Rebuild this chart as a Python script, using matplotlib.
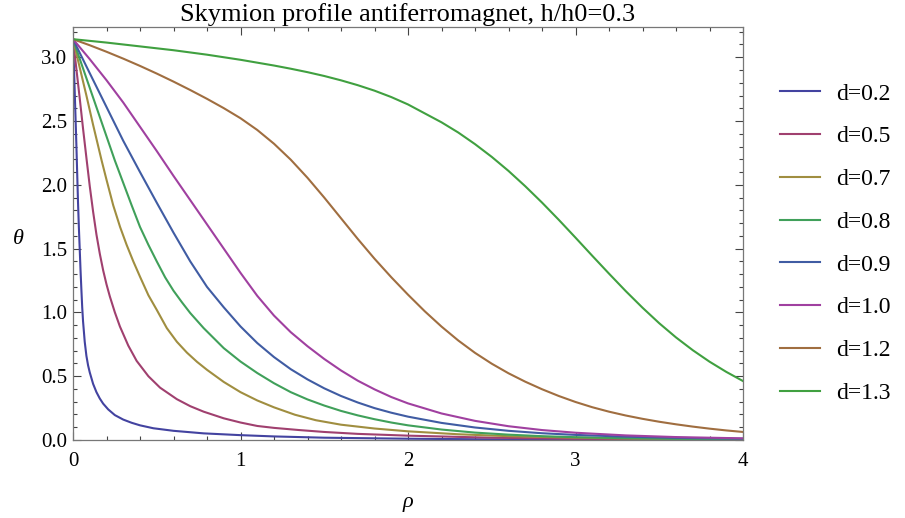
import matplotlib
matplotlib.use("Agg")
import matplotlib.pyplot as plt
from matplotlib.ticker import MultipleLocator, FormatStrFormatter

plt.rcParams['font.family'] = ['Liberation Serif', 'DejaVu Serif']

# profiles theta(rho)
rho_02 = [0, 0.005, 0.01, 0.015, 0.02, 0.025, 0.03, 0.035, 0.04, 0.045, 0.05, 0.055, 0.06, 0.07,
          0.08, 0.09, 0.10, 0.12, 0.14, 0.16, 0.18, 0.21, 0.25, 0.3, 0.35, 0.4, 0.48, 0.6, 0.78,
          1.0, 1.2, 1.5, 2.0, 2.5, 3.0, 3.5, 4.0]
th_02 = [3.1416, 2.95, 2.74, 2.53, 2.32, 2.09, 1.86, 1.67, 1.50, 1.33, 1.18, 1.04, 0.93, 0.77,
         0.66, 0.585, 0.53, 0.44, 0.375, 0.325, 0.285, 0.24, 0.195, 0.16, 0.135, 0.115, 0.092, 0.072, 0.052,
         0.038, 0.028, 0.018, 0.010, 0.005, 0.003, 0.002, 0.001]

rho_05 = [0, 0.02, 0.04, 0.06, 0.082, 0.10, 0.12, 0.14, 0.16, 0.18, 0.20, 0.22, 0.25, 0.28,
          0.33, 0.38, 0.45, 0.52, 0.62, 0.70, 0.78, 0.9, 1.0, 1.1, 1.2, 1.35, 1.5, 1.7, 2.0,
          2.5, 3.0, 3.5, 4.0]
th_05 = [3.1416, 2.91, 2.68, 2.44, 2.19, 1.99, 1.79, 1.61, 1.46, 1.33, 1.22, 1.125, 1.0, 0.89,
         0.74, 0.62, 0.50, 0.41, 0.32, 0.265, 0.222, 0.17, 0.137, 0.11, 0.095, 0.078, 0.063, 0.048, 0.034,
         0.018, 0.01, 0.006, 0.003]

rho_07 = [0, 0.04, 0.08, 0.12, 0.171, 0.2, 0.24, 0.281, 0.32, 0.36, 0.40, 0.45, 0.5, 0.56,
          0.62, 0.68, 0.74, 0.8, 0.9, 1.0, 1.1, 1.2, 1.325, 1.45, 1.6, 1.8, 2.0, 2.3, 2.6,
          3.0, 3.5, 4.0]
th_07 = [3.1416, 2.92, 2.70, 2.47, 2.19, 2.04, 1.84, 1.67, 1.53, 1.40, 1.28, 1.135, 1.02, 0.877,
         0.77, 0.685, 0.613, 0.55, 0.455, 0.375, 0.31, 0.256, 0.198, 0.155, 0.12, 0.09, 0.068, 0.045, 0.03,
         0.018, 0.009, 0.005]

rho_08 = [0, 0.05, 0.1, 0.15, 0.2, 0.25, 0.3, 0.35, 0.4, 0.45, 0.5, 0.55, 0.6, 0.65, 0.7,
          0.78, 0.9, 1.0, 1.1, 1.2, 1.3, 1.4, 1.5, 1.6, 1.7, 1.8, 1.9, 2.0, 2.2, 2.4, 2.6,
          2.8, 3.0, 3.3, 3.6, 4.0]
th_08 = [3.1416, 2.95, 2.76, 2.57, 2.38, 2.19, 2.015, 1.84, 1.67, 1.53, 1.40, 1.275, 1.17, 1.08, 0.995,
         0.877, 0.72, 0.615, 0.525, 0.445, 0.375, 0.318, 0.27, 0.228, 0.193, 0.163, 0.137, 0.115, 0.082, 0.058, 0.042,
         0.03, 0.022, 0.014, 0.009, 0.005]

rho_09 = [0, 0.1, 0.2, 0.3, 0.4, 0.5, 0.6, 0.7, 0.8, 0.9, 1.0, 1.1, 1.2, 1.3, 1.4, 1.5,
          1.6, 1.7, 1.8, 1.9, 2.0, 2.2, 2.4, 2.6, 2.8, 3.0, 3.3, 3.6, 4.0]
th_09 = [3.1416, 2.875, 2.61, 2.345, 2.10, 1.86, 1.625, 1.40, 1.20, 1.04, 0.89, 0.76, 0.65, 0.555, 0.475, 0.405,
         0.345, 0.294, 0.25, 0.214, 0.183, 0.134, 0.098, 0.072, 0.053, 0.04, 0.026, 0.017, 0.01]

rho_10 = [0, 0.1, 0.2, 0.3, 0.4, 0.5, 0.6, 0.7, 0.8, 0.9, 1.0, 1.1, 1.2, 1.3, 1.4, 1.5,
          1.6, 1.7, 1.8, 1.9, 2.0, 2.2, 2.4, 2.6, 2.8, 3.0, 3.3, 3.6, 4.0]
th_10 = [3.1416, 2.985, 2.82, 2.645, 2.455, 2.265, 2.07, 1.88, 1.69, 1.50, 1.31, 1.13, 0.975, 0.845, 0.735, 0.635,
         0.545, 0.465, 0.397, 0.337, 0.287, 0.208, 0.15, 0.108, 0.078, 0.057, 0.036, 0.023, 0.013]

rho_12 = [0, 0.1, 0.2, 0.3, 0.4, 0.5, 0.6, 0.7, 0.8, 0.9, 1.0, 1.1, 1.2, 1.3, 1.4, 1.5,
          1.6, 1.7, 1.8, 1.9, 2.0, 2.1, 2.2, 2.3, 2.4, 2.5, 2.6, 2.7, 2.8, 2.9, 3.0,
          3.1, 3.2, 3.3, 3.4, 3.5, 3.6, 3.7, 3.8, 3.9, 4.0]
th_12 = [3.1416, 3.094, 3.043, 2.989, 2.932, 2.872, 2.809, 2.743, 2.674, 2.601, 2.522, 2.43, 2.322, 2.197, 2.055, 1.90,
         1.738, 1.576, 1.421, 1.276, 1.139, 1.009, 0.889, 0.78, 0.683, 0.598, 0.523, 0.457, 0.398, 0.345, 0.298,
         0.257, 0.222, 0.192, 0.166, 0.143, 0.123, 0.105, 0.089, 0.075, 0.063]

rho_13 = [0, 0.2, 0.4, 0.6, 0.8, 1.0, 1.2, 1.3, 1.4, 1.5, 1.6, 1.7, 1.8, 1.9, 2.0, 2.1,
          2.2, 2.3, 2.4, 2.5, 2.6, 2.7, 2.8, 2.9, 3.0, 3.1, 3.2, 3.3, 3.4, 3.5, 3.6,
          3.7, 3.8, 3.9, 4.0]
th_13 = [3.1416, 3.115, 3.085, 3.055, 3.02, 2.98, 2.935, 2.91, 2.883, 2.853, 2.819, 2.781, 2.738, 2.688, 2.63, 2.56,
         2.49, 2.41, 2.319, 2.219, 2.109, 1.989, 1.861, 1.726, 1.586, 1.444, 1.304, 1.167, 1.037, 0.915, 0.804,
         0.704, 0.614, 0.534, 0.462]

labels = ['d=0.2', 'd=0.5', 'd=0.7', 'd=0.8', 'd=0.9', 'd=1.0', 'd=1.2', 'd=1.3']
rhos = [rho_02, rho_05, rho_07, rho_08, rho_09, rho_10, rho_12, rho_13]
thetas = [th_02, th_05, th_07, th_08, th_09, th_10, th_12, th_13]
colors = ['#4343a0', '#a0406f', '#a08e40', '#40a05a', '#405ca3', '#a040a0', '#a06e40', '#40a040']

fig = plt.figure(figsize=(9.05, 5.18), dpi=100)
ax = fig.add_axes([73 / 905, 1 - 440 / 518, 670 / 905, 413 / 518])

lines = []
for r, t, c, lab in zip(rhos, thetas, colors, labels):
    ln, = ax.plot(r, t, color=c, lw=1.5, label=lab, solid_joinstyle='round')
    lines.append(ln)

ax.set_xlim(0, 4)
ax.set_ylim(0, 3.237)

ax.xaxis.set_major_locator(MultipleLocator(1))
ax.xaxis.set_minor_locator(MultipleLocator(0.2))
ax.yaxis.set_major_locator(MultipleLocator(0.5))
ax.yaxis.set_minor_locator(MultipleLocator(0.1))
ax.xaxis.set_major_formatter(FormatStrFormatter('%d'))
ax.yaxis.set_major_formatter(FormatStrFormatter('%.1f'))

ax.tick_params(which='both', direction='in', top=True, right=True, color='#444444', width=0.8,
               labelsize=15)
ax.tick_params(which='major', length=5.5)
ax.tick_params(which='minor', length=3.2)
ax.tick_params(axis='x', which='major', pad=9)
ax.tick_params(axis='y', which='major', pad=4)
for s in ax.spines.values():
    s.set_color('#777777')
    s.set_linewidth(0.9)

ax.set_title('Skymion profile antiferromagnet, h/h0=0.3', fontsize=19, pad=4)
ax.set_xlabel('ρ', fontsize=16, style='italic', va='center')
ax.xaxis.set_label_coords(0.5, -62 / 413)
ax.set_ylabel('θ', fontsize=16, style='italic', rotation=0, va='center', ha='center')
ax.yaxis.set_label_coords(-55 / 670, 200 / 413)

fig.legend(lines, labels, loc='upper left', bbox_to_anchor=(780 / 905, 1 - 83 / 518),
           frameon=False, fontsize=17, handlelength=1.7, handletextpad=0.68,
           labelspacing=0.9, borderpad=0, borderaxespad=0)

fig.savefig('out.png', dpi=100)
